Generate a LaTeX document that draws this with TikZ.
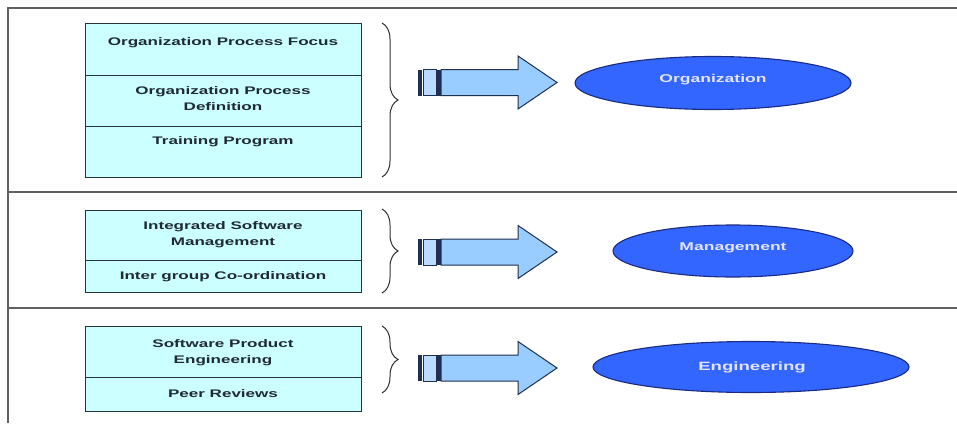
\documentclass[tikz,border=0pt]{standalone}
\usepackage{fontspec}
\setmainfont{Liberation Sans}[FakeStretch=1.55]
\usetikzlibrary{shapes.geometric,decorations.pathreplacing}
\definecolor{cellfill}{HTML}{CCFFFF}
\definecolor{celledge}{HTML}{26323C}
\definecolor{celltxt}{HTML}{1E2A34}
\definecolor{arrowfill}{HTML}{99CCFF}
\definecolor{arrowedge}{HTML}{1F2F4F}
\definecolor{ellfill}{HTML}{3366FF}
\definecolor{elledge}{HTML}{1A2A80}
\definecolor{panelline}{HTML}{606060}
\definecolor{bracecol}{HTML}{303030}
\tikzset{
  cell/.style={draw=celledge, line width=1.1pt, fill=cellfill, minimum width=276pt, anchor=north west, inner sep=0pt},
  celltext/.style={text=celltxt, font=\fontsize{11}{16}\selectfont\bfseries, align=center, inner sep=0pt},
  panel/.style={draw=panelline, line width=1.6pt},
  bracestyle/.style={draw=bracecol, line width=1pt, decorate, decoration={brace, amplitude=16pt}},
  ell/.style={ellipse, draw=elledge, line width=1.1pt, fill=ellfill, text=white, inner sep=0pt, font=\fontsize{11.3}{14}\selectfont\bfseries},
  tailbar/.style={fill=arrowedge},
  tailseg/.style={fill=arrowfill!70!white, draw=arrowedge, line width=0.9pt},
  arrowbody/.style={fill=arrowfill, draw=arrowedge, line width=1pt, line join=miter},
  blockarrow/.pic={
    \fill[tailbar] (0,-13) rectangle (4,13);
    \filldraw[tailseg] (5,-13) rectangle (18,13);
    \fill[tailbar] (18,-13) rectangle (23,13);
    \filldraw[arrowbody] (23,-13) -- (100,-13) -- (100,-26.5) -- (139,0) -- (100,26.5) -- (100,13) -- (23,13) -- cycle;
  }
}
\begin{document}
\begin{tikzpicture}[x=1pt,y=-1pt]
\useasboundingbox (0,0) rectangle (957,423);
% panel frame
\coordinate (fTL) at (8,8);
\coordinate (fTR) at (957,8);
\coordinate (fBL) at (8,423);
\coordinate (m1L) at (8,192);
\coordinate (m1R) at (957,192);
\coordinate (m2L) at (8,308);
\coordinate (m2R) at (957,308);
\draw[panel] (fTR) -- (fTL) -- (fBL);
\draw[panel] (m1L) -- (m1R);
\draw[panel] (m2L) -- (m2R);

% ---- panel 1 ----
\node[cell, minimum height=52pt] (b1a) at (85,23) {};
\node[cell, minimum height=51pt] (b1b) at (85,75) {};
\node[cell, minimum height=51pt] (b1c) at (85,126) {};
\node[celltext] (t1a) at (223,43) {Organization Process Focus};
\node[celltext] (t1b) at (223,99) {Organization Process\\Definition};
\node[celltext] (t1c) at (223,142) {Training Program};
\coordinate (br1s) at (382,23);
\coordinate (br1e) at (382,177);
\draw[bracestyle] (br1s) -- (br1e);
\pic (ar1) at (418,82.5) {blockarrow};
\node[ell, minimum width=276pt, minimum height=53pt] (e1) at (713,83) {};
\node[font=\fontsize{11.3}{14}\selectfont\bfseries, text=white!90!blue, inner sep=0pt] (l1) at (713,80) {Organization};

% ---- panel 2 ----
\node[cell, minimum height=50pt] (b2a) at (85,210) {};
\node[cell, minimum height=32pt] (b2b) at (85,260) {};
\node[celltext] (t2a) at (223,235) {Integrated Software\\Management};
\node[celltext] (t2b) at (223,277) {Inter group Co-ordination};
\coordinate (br2s) at (382,209);
\coordinate (br2e) at (382,293);
\draw[bracestyle] (br2s) -- (br2e);
\pic (ar2) at (418,252) {blockarrow};
\node[ell, minimum width=240pt, minimum height=52pt] (e2) at (733,251) {};
\node[font=\fontsize{11.3}{14}\selectfont\bfseries, text=white!90!blue, inner sep=0pt] (l2) at (733,248) {Management};

% ---- panel 3 ----
\node[cell, minimum height=51pt] (b3a) at (85,326) {};
\node[cell, minimum height=34pt] (b3b) at (85,377) {};
\node[celltext] (t3a) at (223,353) {Software Product\\Engineering};
\node[celltext] (t3b) at (223,394) {Peer Reviews};
\coordinate (br3s) at (382,326);
\coordinate (br3e) at (382,393);
\draw[bracestyle] (br3s) -- (br3e);
\pic (ar3) at (418,368) {blockarrow};
\node[ell, minimum width=316pt, minimum height=51pt] (e3) at (751,367) {};
\node[font=\fontsize{12}{14}\selectfont\bfseries, text=white!90!blue, inner sep=0pt] (l3) at (752,367) {Engineering};
\end{tikzpicture}
\end{document}
